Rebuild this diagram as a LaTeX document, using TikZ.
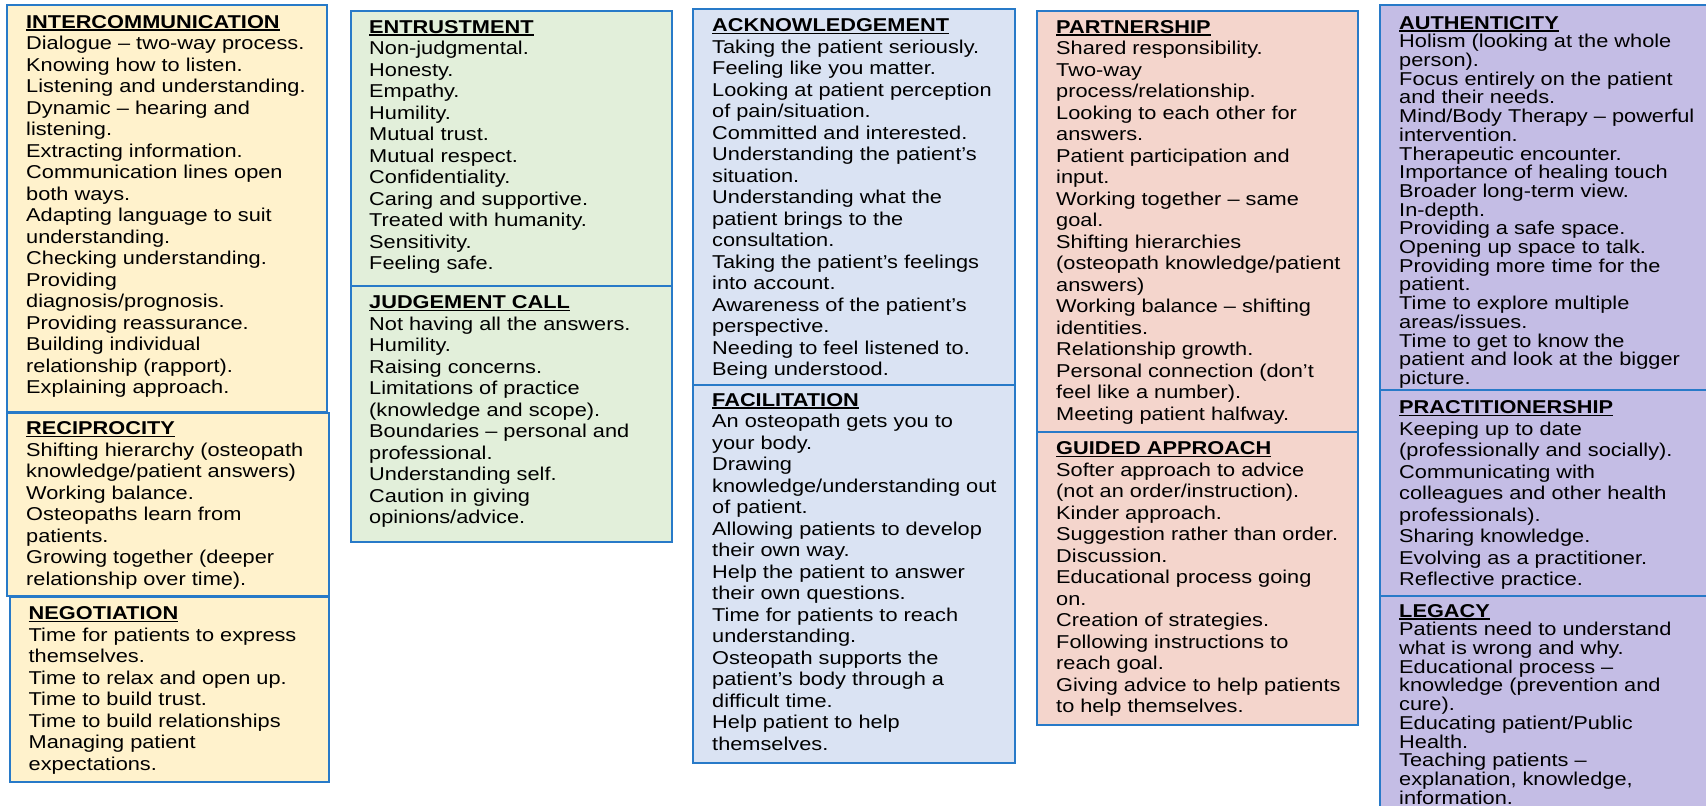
\documentclass[tikz,border=0pt]{standalone}
\usepackage{fontspec}
\setmainfont{Liberation Sans}[FakeStretch=1.17]
\usepackage{xcolor}
\usepackage{tikz}

\definecolor{frameblue}{RGB}{40,122,200}
\definecolor{boxyellow}{RGB}{255,242,204}
\definecolor{boxgreen}{RGB}{226,239,218}
\definecolor{boxblue}{RGB}{218,227,243}
\definecolor{boxpink}{RGB}{244,213,204}
\definecolor{boxpurple}{RGB}{196,189,229}

% underlined bold heading
\newcommand{\hd}[1]{\setbox0\hbox{\bfseries #1}\rlap{\rule[-2.6pt]{\wd0}{1.5pt}}\box0}

\begin{document}
\begin{tikzpicture}[x=1pt, y=-1pt,
    box/.style={draw=frameblue, line width=1.4pt},
    txt/.style={anchor=north west, inner sep=0pt, align=left, font=\fontsize{18.6}{21.5}\selectfont},
    tight/.style={font=\fontsize{18.6}{18.7}\selectfont}]

    \clip (0,0) rectangle (1706,806);

    %boxes
    \draw[box, fill=boxyellow] (7,5) rectangle (327,412);
    \draw[box, fill=boxyellow] (7,413) rectangle (329,596);
    \draw[box, fill=boxyellow] (10,597) rectangle (329,782);
    \draw[box, fill=boxgreen] (351,11) rectangle (672,286);
    \draw[box, fill=boxgreen] (351,286) rectangle (672,542);
    \draw[box, fill=boxblue] (693,9) rectangle (1015,385);
    \draw[box, fill=boxblue] (693,385) rectangle (1015,763);
    \draw[box, fill=boxpink] (1037,11) rectangle (1358,432);
    \draw[box, fill=boxpink] (1037,432) rectangle (1358,725);
    \draw[box, fill=boxpurple] (1380,5) rectangle (1720,390);
    \draw[box, fill=boxpurple] (1380,390) rectangle (1720,596);
    \draw[box, fill=boxpurple] (1380,596) rectangle (1720,820);

    %column 1
    \node[txt] (intercom) at (26,15) {\hd{INTERCOMMUNICATION}\\
        Dialogue – two-way process.\\ Knowing how to listen.\\
        Listening and understanding.\\ Dynamic – hearing and\\ listening.\\
        Extracting information.\\ Communication lines open\\ both ways.\\
        Adapting language to suit\\ understanding.\\ Checking understanding.\\
        Providing\\ diagnosis/prognosis.\\ Providing reassurance.\\
        Building individual\\ relationship (rapport).\\ Explaining approach.};
    \node[txt] (recip) at (26,421.5) {\hd{RECIPROCITY}\\
        Shifting hierarchy (osteopath\\ knowledge/patient answers)\\
        Working balance.\\ Osteopaths learn from\\ patients.\\
        Growing together (deeper\\ relationship over time).};
    \node[txt] (negot) at (28.5,606.5) {\hd{NEGOTIATION}\\
        Time for patients to express\\ themselves.\\
        Time to relax and open up.\\ Time to build trust.\\
        Time to build relationships\\ Managing patient\\ expectations.};

    %column 2
    \node[txt] (entrust) at (369,20) {\hd{ENTRUSTMENT}\\
        Non-judgmental.\\ Honesty.\\ Empathy.\\ Humility.\\ Mutual trust.\\
        Mutual respect.\\ Confidentiality.\\ Caring and supportive.\\
        Treated with humanity.\\ Sensitivity.\\ Feeling safe.};
    \node[txt] (judge) at (369,295.5) {\hd{JUDGEMENT CALL}\\
        Not having all the answers.\\ Humility.\\ Raising concerns.\\
        Limitations of practice\\ (knowledge and scope).\\
        Boundaries – personal and\\ professional.\\ Understanding self.\\
        Caution in giving\\ opinions/advice.};

    %column 3
    \node[txt] (ackn) at (712,18.5) {\hd{ACKNOWLEDGEMENT}\\
        Taking the patient seriously.\\ Feeling like you matter.\\
        Looking at patient perception\\ of pain/situation.\\
        Committed and interested.\\ Understanding the patient’s\\ situation.\\
        Understanding what the\\ patient brings to the\\ consultation.\\
        Taking the patient’s feelings\\ into account.\\
        Awareness of the patient’s\\ perspective.\\
        Needing to feel listened to.\\ Being understood.};
    \node[txt] (facil) at (712,393) {\hd{FACILITATION}\\
        An osteopath gets you to\\ your body.\\ Drawing\\
        knowledge/understanding out\\ of patient.\\
        Allowing patients to develop\\ their own way.\\
        Help the patient to answer\\ their own questions.\\
        Time for patients to reach\\ understanding.\\
        Osteopath supports the\\ patient’s body through a\\ difficult time.\\
        Help patient to help\\ themselves.};

    %column 4
    \node[txt] (partner) at (1056,20) {\hd{PARTNERSHIP}\\
        Shared responsibility.\\ Two-way\\ process/relationship.\\
        Looking to each other for\\ answers.\\
        Patient participation and\\ input.\\
        Working together – same\\ goal.\\ Shifting hierarchies\\
        (osteopath knowledge/patient\\ answers)\\
        Working balance – shifting\\ identities.\\ Relationship growth.\\
        Personal connection (don’t\\ feel like a number).\\
        Meeting patient halfway.};
    \node[txt] (guided) at (1056,441.5) {\hd{GUIDED APPROACH}\\
        Softer approach to advice\\ (not an order/instruction).\\
        Kinder approach.\\ Suggestion rather than order.\\ Discussion.\\
        Educational process going\\ on.\\ Creation of strategies.\\
        Following instructions to\\ reach goal.\\
        Giving advice to help patients\\ to help themselves.};

    %column 5
    \node[txt, tight] (authen) at (1399,16) {\hd{AUTHENTICITY}\\
        Holism (looking at the whole\\ person).\\
        Focus entirely on the patient\\ and their needs.\\
        Mind/Body Therapy – powerful\\ intervention.\\
        Therapeutic encounter.\\ Importance of healing touch\\
        Broader long-term view.\\ In-depth.\\ Providing a safe space.\\
        Opening up space to talk.\\ Providing more time for the\\ patient.\\
        Time to explore multiple\\ areas/issues.\\
        Time to get to know the\\ patient and look at the bigger\\ picture.};
    \node[txt] (practit) at (1399,400.5) {\hd{PRACTITIONERSHIP}\\
        Keeping up to date\\ (professionally and socially).\\
        Communicating with\\ colleagues and other health\\ professionals).\\
        Sharing knowledge.\\ Evolving as a practitioner.\\ Reflective practice.};
    \node[txt, tight] (legacy) at (1399,604) {\hd{LEGACY}\\
        Patients need to understand\\ what is wrong and why.\\
        Educational process –\\ knowledge (prevention and\\ cure).\\
        Educating patient/Public\\ Health.\\
        Teaching patients –\\ explanation, knowledge,\\ information.};

\end{tikzpicture}
\end{document}
